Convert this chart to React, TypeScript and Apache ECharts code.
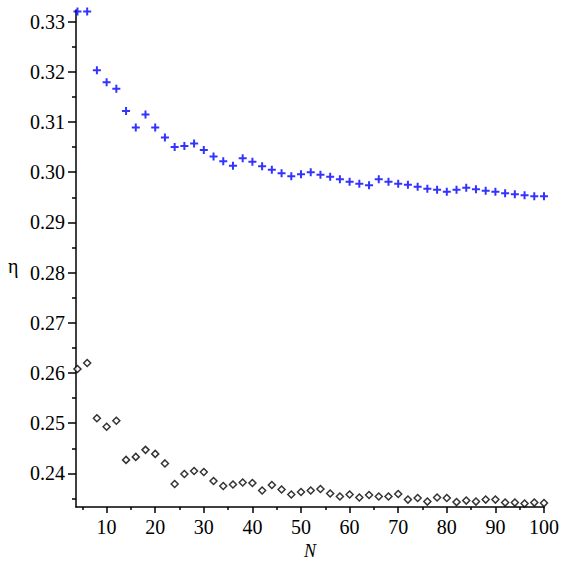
import React, { useEffect, useRef } from "react";
import * as echarts from "echarts";

const nValues = [4, 6, 8, 10, 12, 14, 16, 18, 20, 22, 24, 26, 28, 30, 32, 34, 36, 38, 40, 42, 44, 46, 48, 50, 52, 54, 56, 58, 60, 62, 64, 66, 68, 70, 72, 74, 76, 78, 80, 82, 84, 86, 88, 90, 92, 94, 96, 98, 100];

const etaPlus = [0.3320, 0.3320, 0.3203, 0.3179, 0.3166, 0.3122, 0.3089, 0.3115, 0.3089, 0.3069, 0.3050, 0.3052, 0.3057, 0.3044, 0.3031, 0.3022, 0.3013, 0.3028, 0.3021, 0.3012, 0.3005, 0.2998, 0.2992, 0.2996, 0.3000, 0.2995, 0.2991, 0.2986, 0.2981, 0.2977, 0.2974, 0.2986, 0.2981, 0.2977, 0.2975, 0.2971, 0.2967, 0.2965, 0.2961, 0.2965, 0.2969, 0.2966, 0.2963, 0.2961, 0.2958, 0.2956, 0.2954, 0.2952, 0.2952];

const etaDiamond = [0.2608, 0.2620, 0.2510, 0.2493, 0.2505, 0.2427, 0.2433, 0.2447, 0.2439, 0.2420, 0.2379, 0.2399, 0.2405, 0.2403, 0.2385, 0.2375, 0.2378, 0.2382, 0.2381, 0.2366, 0.2377, 0.2368, 0.2358, 0.2363, 0.2366, 0.2369, 0.2360, 0.2354, 0.2358, 0.2352, 0.2357, 0.2354, 0.2354, 0.2359, 0.2348, 0.2351, 0.2344, 0.2352, 0.2351, 0.2343, 0.2346, 0.2344, 0.2348, 0.2348, 0.2342, 0.2342, 0.2340, 0.2342, 0.2341];

const xMajorTicks = [10, 20, 30, 40, 50, 60, 70, 80, 90, 100];
const xMinorTicks = [5, 15, 25, 35, 45, 55, 65, 75, 85, 95];
const yMajorTicks = [0.24, 0.25, 0.26, 0.27, 0.28, 0.29, 0.3, 0.31, 0.32, 0.33];
const yMinorTicks = [0.235, 0.245, 0.255, 0.265, 0.275, 0.285, 0.295, 0.305, 0.315, 0.325];

const X_MIN = 3.7;
const X_MAX = 100;
const Y_MIN = 0.2333;
const Y_MAX = 0.3323;

const FONT = "'Liberation Serif', 'DejaVu Serif', serif";

export default function App() {
  const ref = useRef<HTMLDivElement>(null);
  useEffect(() => {
    if (!ref.current) return;
    const chart = echarts.init(ref.current, undefined, { renderer: "svg" });
    const lineStyle = { color: "#000", width: 1.5 };
    chart.setOption({
      animation: false,
      backgroundColor: "#fff",
      grid: { left: 76, right: 16, top: 10, bottom: 47 },
      xAxis: [
        {
          type: "value",
          min: X_MIN,
          max: X_MAX,
          position: "bottom",
          axisLine: { show: true, onZero: false, lineStyle },
          axisTick: { show: true, customValues: xMajorTicks, length: 6, lineStyle },
          axisLabel: {
            customValues: xMajorTicks,
            fontFamily: FONT,
            fontSize: 20,
            color: "#000",
            margin: 10,
          },
          splitLine: { show: false },
          name: "N",
          nameLocation: "middle",
          nameGap: 31,
          nameTextStyle: { fontFamily: FONT, fontSize: 18, fontStyle: "italic", color: "#000" },
        },
        {
          type: "value",
          min: X_MIN,
          max: X_MAX,
          position: "bottom",
          axisLine: { show: false, onZero: false },
          axisTick: { show: true, customValues: xMinorTicks, length: 3, lineStyle },
          axisLabel: { show: false },
          splitLine: { show: false },
        },
      ],
      yAxis: [
        {
          type: "value",
          min: Y_MIN,
          max: Y_MAX,
          position: "left",
          axisLine: { show: true, onZero: false, lineStyle },
          axisTick: { show: true, customValues: yMajorTicks, length: 8, lineStyle },
          axisLabel: {
            customValues: yMajorTicks,
            formatter: (v: number) => v.toFixed(2),
            fontFamily: FONT,
            fontSize: 20,
            color: "#000",
            margin: 11,
          },
          splitLine: { show: false },
        },
        {
          type: "value",
          min: Y_MIN,
          max: Y_MAX,
          position: "left",
          axisLine: { show: false, onZero: false },
          axisTick: { show: true, customValues: yMinorTicks, length: 4, lineStyle },
          axisLabel: { show: false },
          splitLine: { show: false },
        },
      ],
      graphic: [
        {
          type: "text",
          left: 8,
          top: 256,
          style: { text: "η", fontFamily: FONT, fontSize: 20, fill: "#000" },
        },
      ],
      series: [
        {
          type: "scatter",
          xAxisIndex: 0,
          yAxisIndex: 0,
          data: nValues.map((n, i) => [n, etaPlus[i]]),
          symbol: "path://M3,0H5V3H8V5H5V8H3V5H0V3H3Z",
          symbolSize: 8,
          itemStyle: { color: "#0000ff" },
          clip: false,
        },
        {
          type: "scatter",
          xAxisIndex: 0,
          yAxisIndex: 0,
          data: nValues.map((n, i) => [n, etaDiamond[i]]),
          symbol: "diamond",
          symbolSize: 7,
          itemStyle: { color: "#fff", borderColor: "#000", borderWidth: 1.5 },
          clip: false,
        },
      ],
    });
    return () => chart.dispose();
  }, []);
  return (
    <div
      ref={ref}
      style={{ position: "absolute", left: 0, top: 0, width: 562, height: 565 }}
    />
  );
}
